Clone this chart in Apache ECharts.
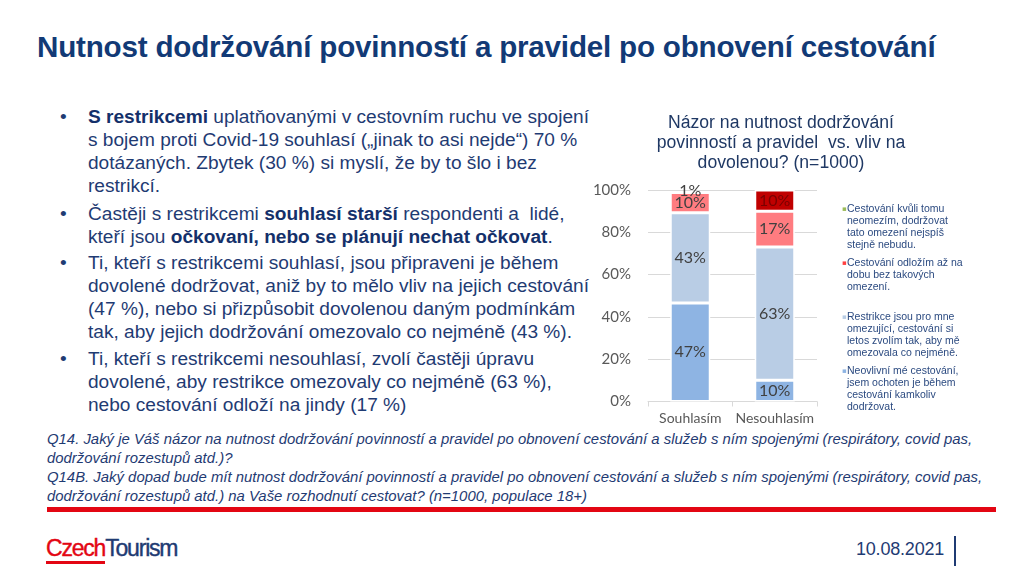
<!DOCTYPE html>
<html>
<head>
<meta charset="utf-8">
<script src="https://cdn.jsdelivr.net/npm/echarts@6/dist/echarts.min.js"></script>
<style>
  html, body { margin:0; padding:0; background:#fff; width:1013px; height:578px; overflow:hidden; }
  body { position:relative; font-family:"Liberation Sans", Arial, sans-serif; }
  .abs { position:absolute; white-space:nowrap; }
  #title { left:37px; top:30px; font-size:29.6px; line-height:34px; font-weight:bold; color:#123a76; letter-spacing:-0.2px; }
  #bullets { left:56px; top:105px; font-size:19.1px; line-height:23px; color:#1f3b73; }
  #bullets .p { position:relative; padding-left:32px; }
  #bullets .p::before { content:"•"; position:absolute; left:4px; top:0; }
  #bullets b { color:#14306a; }
  #foot { left:47px; top:430px; font-size:14.9px; line-height:19px; font-style:italic; color:#1f3b73; }
  #redline { left:47px; top:507px; width:949px; height:5px; background:#e30613; }
  #logo { left:46px; top:535px; font-size:23px; line-height:26px; letter-spacing:-1.2px; -webkit-text-stroke:0.4px; }
  #logo .c { color:#e30613; border-bottom:3px solid #e30613; }
  #logo .t { color:#1f3b73; }
  #date { left:856px; top:539px; font-size:18px; line-height:20px; color:#1f3b73; letter-spacing:-0.2px; }
  #vline { left:954px; top:536px; width:2px; height:30px; background:#1f3b73; }
  #chart { position:absolute; left:580px; top:100px; width:430px; height:330px; }
</style>
</head>
<body>
<div id="title" class="abs">Nutnost dodržování povinností a pravidel po obnovení cestování</div>
<div id="bullets" class="abs">
  <div class="p"><b>S restrikcemi</b> uplatňovanými v cestovním ruchu ve spojení<br>s bojem proti Covid-19 souhlasí („jinak to asi nejde“) 70 %<br>dotázaných. Zbytek (30 %) si myslí, že by to šlo i bez<br>restrikcí.</div>
  <div class="p" style="margin-top:5px">Častěji s restrikcemi <b>souhlasí starší</b> respondenti a&nbsp; lidé,<br>kteří jsou <b>očkovaní, nebo se plánují nechat očkovat</b>.</div>
  <div class="p" style="margin-top:3px">Ti, kteří s restrikcemi souhlasí, jsou připraveni je během<br>dovolené dodržovat, aniž by to mělo vliv na jejich cestování<br>(47 %), nebo si přizpůsobit dovolenou daným podmínkám<br>tak, aby jejich dodržování omezovalo co nejméně (43 %).</div>
  <div class="p" style="margin-top:4px">Ti, kteří s restrikcemi nesouhlasí, zvolí častěji úpravu<br>dovolené, aby restrikce omezovaly co nejméně (63 %),<br>nebo cestování odloží na jindy (17 %)</div>
</div>
<div id="foot" class="abs">Q14. Jaký je Váš názor na nutnost dodržování povinností a pravidel po obnovení cestování a služeb s ním spojenými (respirátory, covid pas,<br>dodržování rozestupů atd.)?<br>Q14B. Jaký dopad bude mít nutnost dodržování povinností a pravidel po obnovení cestování a služeb s ním spojenými (respirátory, covid pas,<br>dodržování rozestupů atd.) na Vaše rozhodnutí cestovat? (n=1000, populace 18+)</div>
<div id="redline" class="abs"></div>
<div id="logo" class="abs"><span class="c">Czech</span><span class="t">Tourism</span></div>
<div id="date" class="abs">10.08.2021</div>
<div id="vline" class="abs"></div>
<div id="chart"></div>
<script>
// ---- data ----
const categories = ['Souhlasím', 'Nesouhlasím'];
const seriesNames = [
  'Neovlivní mé cestování, jsem ochoten je během cestování kamkoliv dodržovat.',
  'Restrikce jsou pro mne omezující, cestování si letos zvolím tak, aby mě omezovala co nejméně.',
  'Cestování odložím až na dobu bez takových omezení.',
  'Cestování kvůli tomu neomezím, dodržovat tato omezení nejspíš stejně nebudu.'
];
const legendLines = [
  ['Neovlivní mé cestování,', 'jsem ochoten je během', 'cestování kamkoliv', 'dodržovat.'],
  ['Restrikce jsou pro mne', 'omezující, cestování si', 'letos zvolím tak, aby mě', 'omezovala co nejméně.'],
  ['Cestování odložím až na', 'dobu bez takových', 'omezení.', ''],
  ['Cestování kvůli tomu', 'neomezím, dodržovat', 'tato omezení nejspíš', 'stejně nebudu.']
];
const neovlivni = [46.6, 10];
const restrikce = [42.6, 63];
const odlozim   = [9.6, 17];
const neomezim  = [0.6, 10];
const yTicks = [0, 20, 40, 60, 80, 100];
const chartTitle = 'Názor na nutnost dodržování\npovinností a pravidel  vs. vliv na\ndovolenou? (n=1000)';

// ---- styles ----
const colors = ['#8eb4e3', '#b9cde5', '#ff7c80', '#c00000'];
const markerColors = ['#8eb4e3', '#b9cde5', '#ff4040', '#9bbb59'];
const labelColors = ['#404040', '#404040', '#404040', '#7a0000'];
const values = [neovlivni, restrikce, odlozim, neomezim];

const chart = echarts.init(document.getElementById('chart'), null, { renderer: 'canvas' });

const rich = { s: { width: 5, fontSize: 10.5, lineHeight: 12 },
               t: { fontSize: 10.5, lineHeight: 12, color: '#2b4a80', fontFamily: 'Liberation Sans' } };
markerColors.forEach((c, i) => {
  rich['m' + i] = { width: 5, fontSize: 7, lineHeight: 12, color: c, fontFamily: 'DejaVu Sans' };
});

const series = seriesNames.map((name, i) => ({
  name: name,
  type: 'bar',
  stack: 'total',
  barWidth: 40,
  data: values[i],
  itemStyle: { color: colors[i], borderColor: '#ffffff', borderWidth: 1.5 },
  label: {
    show: true,
    position: 'inside',
    formatter: p => Math.round(p.value) + '%',
    fontFamily: 'Lato',
    fontSize: 16,
    color: labelColors[i]
  },
  emphasis: { disabled: true }
}));
// the 1% label of the tiny top segment sits above it
series[3].data = neomezim.map((v, j) => j === 0 ? { value: v, label: { color: '#404040', position: 'top', distance: -8 } } : v);

chart.setOption({
  backgroundColor: 'transparent',
  animation: false,
  title: {
    text: chartTitle,
    left: 196,
    top: 8,
    textAlign: 'center',
    textStyle: { fontFamily: 'Liberation Sans', fontSize: 17.6, fontWeight: 'normal', lineHeight: 20, color: '#1f3864' }
  },
  grid: { left: 68, top: 90, width: 169, height: 211.5, containLabel: false },
  xAxis: {
    type: 'category',
    data: categories,
    axisLine: { lineStyle: { color: '#d9d9d9' } },
    axisTick: { show: true, length: 5, lineStyle: { color: '#d9d9d9' } },
    axisLabel: { interval: 0, margin: 10, fontFamily: 'Lato', fontSize: 14, color: '#595959' }
  },
  yAxis: {
    type: 'value',
    min: 0, max: 100, interval: 20,
    axisLabel: { margin: 17, fontFamily: 'Lato', fontSize: 15, color: '#595959',
      formatter: v => yTicks.includes(v) ? v + '%' : '' },
    splitLine: { lineStyle: { color: '#d9d9d9', width: 1 } },
    axisLine: { show: false },
    axisTick: { show: false }
  },
  legend: {
    orient: 'vertical',
    left: 251,
    top: 98,
    itemWidth: 0,
    itemHeight: 0,
    itemGap: 6,
    selectedMode: false,
    data: [seriesNames[3], seriesNames[2], seriesNames[1], seriesNames[0]],
    formatter: name => {
      const i = seriesNames.indexOf(name);
      return legendLines[i].map((ln, k) =>
        (k === 0 ? '{m' + i + '|▪}' : '{s| }') + '{t|' + (ln || ' ') + '}').join('\n');
    },
    textStyle: { rich: rich, fontSize: 10.5, lineHeight: 12 }
  },
  series: series
});
</script>
</body>
</html>
